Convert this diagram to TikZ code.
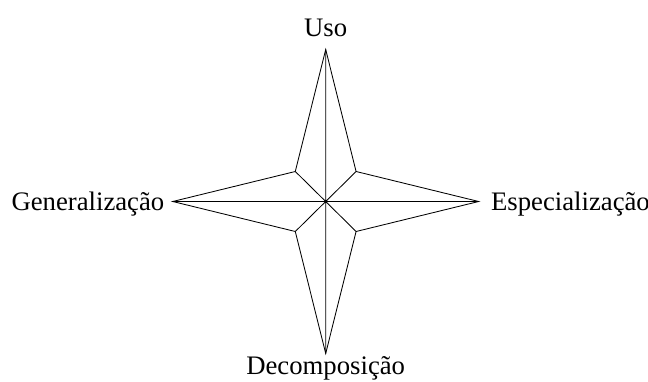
\documentclass[tikz,border=0pt]{standalone}
\usepackage{fontspec}
\setmainfont{Liberation Serif}
\usetikzlibrary{positioning}

\begin{document}
\begin{tikzpicture}[line width=0.6pt,rotulo/.style={inner sep=0pt,font=\fontsize{19}{23}\selectfont}]
	\useasboundingbox (-8.1425,-4.4875) rectangle (8.0575,5.0375);
	
	\coordinate (C) at (0,0);
	\coordinate (N) at (0,3.8);
	\coordinate (S) at (0,-3.8);
	\coordinate (W) at (-3.825,0);
	\coordinate (E) at (3.825,0);
	\coordinate (NE) at (0.76,0.75);
	\coordinate (NW) at (-0.76,0.75);
	\coordinate (SE) at (0.76,-0.75);
	\coordinate (SW) at (-0.76,-0.75);
	
	\draw (N)--(NE)--(E)--(SE)--(S)--(SW)--(W)--(NW)--cycle;
	\draw (N)--(S) (W)--(E) (NW)--(SE) (NE)--(SW);
	
	\node[rotulo,above=0.32cm of N](uso){Uso};
	\node[rotulo,below=0.07cm of S](decomp){Decomposição};
	\node[rotulo,left=0.2cm of W,yshift=-0.07cm](gen){Generalização};
	\node[rotulo,right=0.3cm of E,yshift=-0.07cm](esp){Especialização};
\end{tikzpicture}
\end{document}
